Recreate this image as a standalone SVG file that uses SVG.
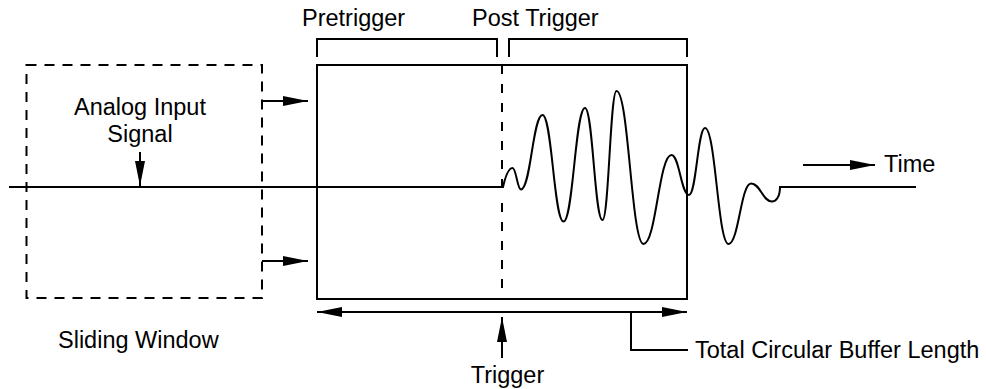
<svg xmlns="http://www.w3.org/2000/svg" width="986" height="389" viewBox="0 0 986 389">
<style>
.ln{fill:none;stroke:#000;stroke-width:2}
.dash{fill:none;stroke:#000;stroke-width:2;stroke-dasharray:10 8}
.tdash{fill:none;stroke:#000;stroke-width:2;stroke-dasharray:9 10}
.t{font-family:"Liberation Sans",Arial,sans-serif;font-size:23.5px;fill:#000}
.m{text-anchor:middle}
</style>
<defs>
<marker id="ah" markerUnits="userSpaceOnUse" markerWidth="25" markerHeight="11" refX="25" refY="5.5" orient="auto-start-reverse" viewBox="0 0 25 11">
<path d="M0,0.5 L25,5.5 L0,10.5 z" fill="#000"/>
</marker>
</defs>
<rect width="986" height="389" fill="#fff"/>
<g id="sliding-window">
<rect class="dash" x="26.5" y="65" width="235.5" height="233"/>
<text class="t" x="58" y="348">Sliding Window</text>
</g>
<g id="buffer">
<rect class="ln" x="317" y="65" width="370" height="234"/>
</g>
<g id="pretrigger">
<path class="ln" d="M317,57 V39 H497 V57"/>
<text class="t" x="302" y="26">Pretrigger</text>
</g>
<g id="posttrigger">
<path class="ln" d="M509,57 V39 H687 V57"/>
<text class="t" x="472" y="26">Post Trigger</text>
</g>
<g id="signal-label">
<text class="t m" x="140" y="115">Analog Input</text>
<text class="t m" x="140" y="142">Signal</text>
</g>
<g id="time-label">
<text class="t" x="884" y="172">Time</text>
</g>
<g id="trigger-label">
<text class="t m" x="507.5" y="383">Trigger</text>
</g>
<g id="length-label">
<text class="t" x="695" y="358">Total Circular Buffer Length</text>
</g>
<g id="signal">
<path class="ln" d="M9,187 H503 C505,178 508.5,168 512.5,168 C516.3,168 517.2,189.5 521,189.5 C530.7,189.5 532.8,115 542.5,115 C552,115 554,221.5 563.5,221.5 C573.2,221.5 575.3,108 585,108 C592.9,108 594.6,220 602.5,220 C608.8,220 610.2,91 616.5,91 C628.7,91 631.4,244 643.5,244 C656.1,244 658.9,155 671.5,155 C679.4,155 681.1,195 689,195 C696.2,195 697.8,128 705,128 C715.6,128 717.9,244 728.5,244 C738.6,244 740.9,183.5 751,183.5 C760.5,183.5 762.5,201.5 772,201.5 C776,201.5 780,197 780,187 H916"/>
</g>
<g id="connectors">
<path class="tdash" d="M502,65 V187"/>
<path class="tdash" d="M502,203 V297"/>
<path class="ln" d="M262,101 H308" marker-end="url(#ah)"/>
<path class="ln" d="M262,261 H308" marker-end="url(#ah)"/>
<path class="ln" d="M140,152 V186" marker-end="url(#ah)"/>
<path class="ln" d="M803,165 H875" marker-end="url(#ah)"/>
<path class="ln" d="M317,312 H687" marker-start="url(#ah)" marker-end="url(#ah)"/>
<path class="ln" d="M502,358 V317" marker-end="url(#ah)"/>
<path class="ln" d="M631,312 V350 H688"/>
</g>
</svg>
